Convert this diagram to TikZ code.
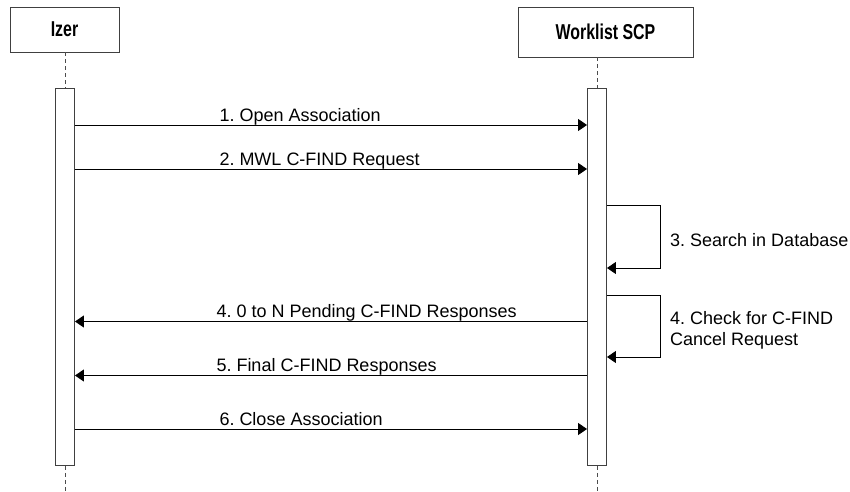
\documentclass[tikz,border=0pt]{standalone}
\usepackage{fontspec}
\setmainfont{Liberation Sans}
\newfontfamily\actorfont[FakeStretch=0.74]{Liberation Sans}
\usetikzlibrary{arrows.meta,positioning}
\frenchspacing

\begin{document}
\begin{tikzpicture}[x=1pt,y=-1pt,
  actor/.style={draw=black!75, line width=0.9pt, inner sep=0pt,
    font=\actorfont\bfseries\fontsize{21.5}{24}\selectfont},
  lifeline/.style={draw=black!70, line width=0.9pt, dash pattern=on 4pt off 3pt},
  bar/.style={draw=black!75, line width=0.9pt, fill=white,
    minimum width=19pt, minimum height=377pt, inner sep=0pt, anchor=north},
  msg/.style={line width=1pt, -{Triangle[length=9pt,width=12pt]}},
  msglabel/.style={anchor=base west, inner sep=0pt,
    font=\fontsize{18}{21}\selectfont},
  looplabel/.style={anchor=west, inner sep=0pt, align=left,
    font=\fontsize{18}{21}\selectfont},
]
\useasboundingbox (0,0) rectangle (850,491);

% Participantes
\node[actor, minimum width=109pt, minimum height=45pt] (izer) at (64.5,29.5) {Izer};
\node[actor, minimum width=175pt, minimum height=50pt] (scp) at (605.5,32) {Worklist SCP};

\node[bar] (izerbar) at (65,88) {};
\node[bar] (scpbar) at (597,88) {};

\coordinate (izerend) at (65,491);
\coordinate (scpend) at (597,491);

% Lineas de vida
\draw[lifeline] (izer.south -| izerbar.north) -- (izerbar.north);
\draw[lifeline] (scp.south -| scpbar.north) -- (scpbar.north);
\draw[lifeline] (izerbar.south) -- (izerend);
\draw[lifeline] (scpbar.south) -- (scpend);

% Mensajes
\foreach \y/\txt [count=\i] in {125/{1. Open Association},
    169/{2. MWL C-FIND Request}, 429/{6. Close Association}}
  \draw[msg] (izerbar.east |- 0,\y) -- (scpbar.west |- 0,\y)
    node[msglabel] (req\i) at (219,\y-4) {\txt};

\foreach \y/\txt [count=\i] in {321.5/{4. 0 to N Pending C-FIND Responses},
    375.5/{5. Final C-FIND Responses}}
  \draw[msg] (scpbar.west |- 0,\y) -- (izerbar.east |- 0,\y)
    node[msglabel] (rsp\i) at (216,\y-4) {\txt};

% Auto-mensajes
\draw[msg] (scpbar.east |- 0,205) -| (660,268) -- (scpbar.east |- 0,268);
\node[looplabel] (search) at (670,240) {3. Search in Database};

\draw[msg] (scpbar.east |- 0,295) -| (660,357) -- (scpbar.east |- 0,357);
\node[looplabel] (cancel) at (670,330) {4. Check for C-FIND\\Cancel Request};
\end{tikzpicture}
\end{document}
